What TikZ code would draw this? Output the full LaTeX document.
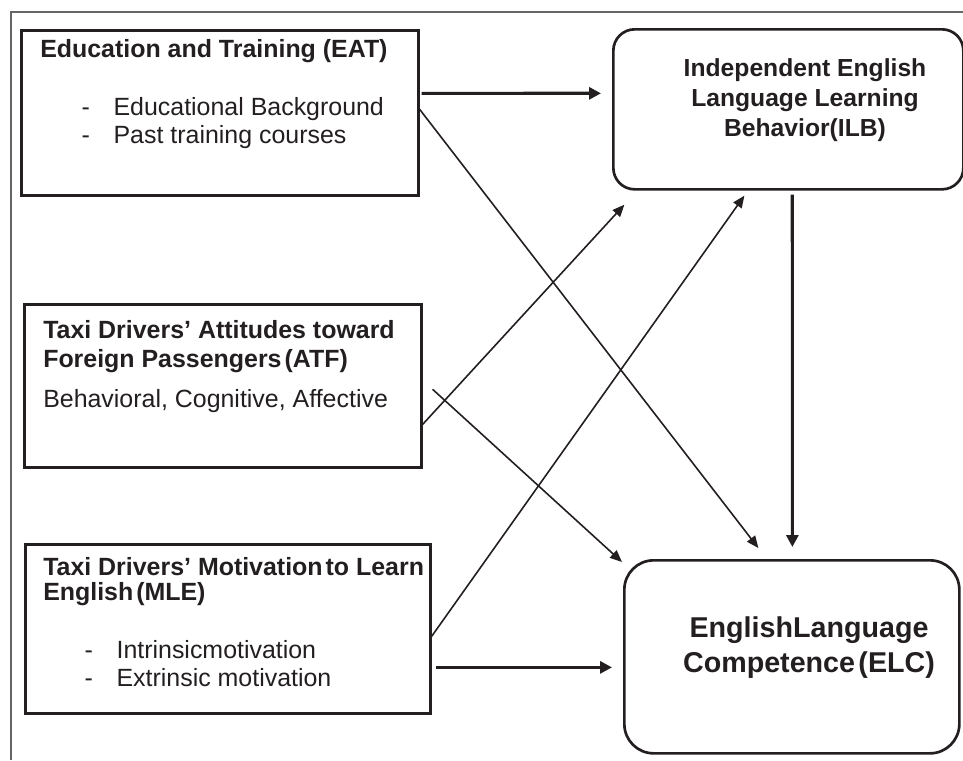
\documentclass[tikz,border=0pt]{standalone}
\usepackage{fontspec}
\setmainfont{Liberation Sans}
\usetikzlibrary{arrows.meta}
\definecolor{ink}{HTML}{231F20}
\newcommand\dashitem[1]{\hspace*{31pt}\makebox[24pt][l]{-}#1}
\newcommand\tsp{\hspace{0.12em}}

\begin{document}
\begin{tikzpicture}[x=0.75pt,y=-0.75pt,every node/.style={inner sep=0pt,text=ink},
  factor/.style={draw=ink,line width=2pt,minimum width=297.75pt,minimum height=123.75pt,anchor=north west},
  outcome/.style={draw=ink,line width=2pt,rounded corners=16pt,anchor=north west},
  boxtext/.style={anchor=north west,align=left,font=\fontsize{18.7}{21}\selectfont},
  mainlink/.style={draw=ink,line width=2.4pt,-{Triangle[length=9pt,width=9pt]}},
  sidelink/.style={draw=ink,line width=1.2pt,-{Triangle[length=9pt,width=7.5pt]}}]
  \useasboundingbox (0,0) rectangle (963,760);
  \draw[black!60,line width=0.8pt] (963,12) -- (11,12) -- (11,760);

  \node[factor] (eat) at (20,29) {};
  \node[factor,minimum height=122.25pt] (atf) at (23,303) {};
  \node[factor,minimum width=303.75pt,minimum height=126.75pt] (mle) at (24,543) {};
  \node[outcome,minimum width=262.5pt,minimum height=120pt] (ilb) at (612,28) {};
  \node[outcome,minimum width=251.25pt,minimum height=144.75pt,rounded corners=22pt] (elc) at (623,559) {};

  \node[boxtext] (eat-text) at (40,39.5) {\textbf{Education and Training (EAT)}\\[22.3pt]
    \dashitem{Educational Background}\\ \dashitem{Past training courses}};
  \node[boxtext] (atf-text) at (43,320) {\textbf{Taxi Drivers' Attitudes toward}\\[0.75pt]
    \textbf{Foreign Passengers\tsp(ATF)}\\[9pt] Behavioral, Cognitive, Affective};
  \node[boxtext] (mle-text) at (43,557) {\textbf{Taxi Drivers' Motivation\tsp to Learn}\\[-2.25pt]
    \textbf{English\tsp(MLE)}\\[22.5pt] \dashitem{Intrinsicmotivation}\\ \dashitem{Extrinsic motivation}};
  \node[anchor=north,align=center,font=\bfseries\fontsize{18.5}{22.5}\selectfont] (ilb-text) at (805,58)
    {Independent English\\Language Learning\\Behavior(ILB)};
  \node[anchor=north,align=center,font=\bfseries\fontsize{21.5}{26.25}\selectfont] (elc-text) at (809,616)
    {EnglishLanguage\\Competence\tsp(ELC)};

  \draw[mainlink,shorten <=1.5pt,shorten >=8.25pt] ([yshift=14.6pt]eat.east) -- ([yshift=12pt]ilb.west);
  \draw[sidelink,shorten >=10.4pt] ([yshift=2.6pt]eat.east) -- ([xshift=-18.75pt]elc.north);
  \draw[sidelink,shorten >=14.3pt] ([yshift=-28.9pt]atf.east) -- ([xshift=-113.3pt]ilb.south);
  \draw[sidelink,shorten <=10.1pt] ([yshift=4.2pt]atf.east) -- ([shift={(-0.75pt,-2.25pt)}]elc.north west);
  \draw[sidelink,shorten >=4.6pt] ([yshift=-5.6pt]mle.east) -- ([xshift=-30.3pt]ilb.south);
  \draw[mainlink,shorten <=3pt,shorten >=8.25pt] ([yshift=-28.9pt]mle.east) -- ([yshift=-7.9pt]elc.west);
  \draw[mainlink,shorten <=3pt,shorten >=9pt] ([xshift=3pt]ilb.south) -- ([xshift=0.4pt]elc.north);
\end{tikzpicture}
\end{document}
